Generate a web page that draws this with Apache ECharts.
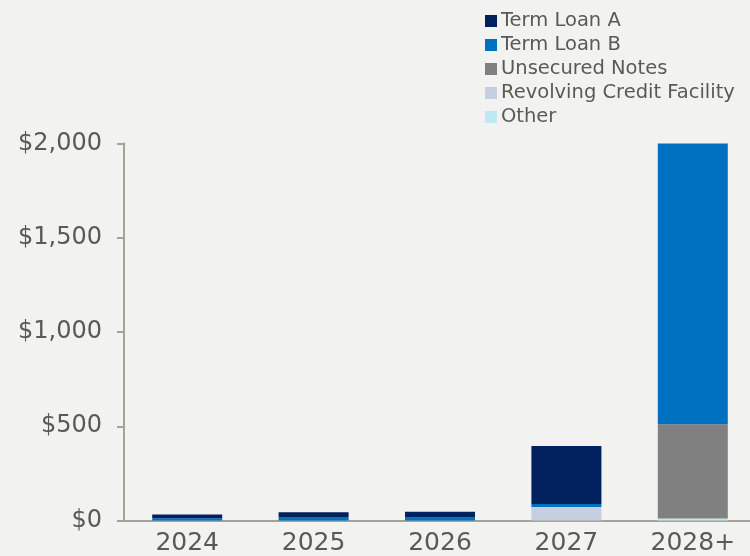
<!DOCTYPE html>
<html>
<head>
<meta charset="utf-8">
<script src="https://cdn.jsdelivr.net/npm/echarts@6/dist/echarts.min.js"></script>
<style>
html,body{margin:0;padding:0;background:#F2F2F0;overflow:hidden;}
#c{width:756px;height:556px;}
</style>
</head>
<body>
<div id="c"></div>
<script>
const categories = ['2024', '2025', '2026', '2027', '2028+'];
const termLoanA = [20, 26, 30, 308, 0];
const termLoanB = [12, 18, 16, 16, 1492];
const unsecuredNotes = [0, 0, 0, 0, 499];
const revolvingCredit = [0, 0, 0, 71, 0];
const other = [0, 0, 0, 0, 11];
const yTicks = [0, 500, 1000, 1500, 2000];

const font = 'DejaVu Sans';
const textColor = '#5A5A55';
const axisColor = '#A3A398';

const seriesDefs = [
  {name: 'Other', data: other, color: '#BDE8F4'},
  {name: 'Revolving Credit Facility', data: revolvingCredit, color: '#C5CFE1'},
  {name: 'Unsecured Notes', data: unsecuredNotes, color: '#808080'},
  {name: 'Term Loan B', data: termLoanB, color: '#0070C0'},
  {name: 'Term Loan A', data: termLoanA, color: '#00205E'}
];

const chart = echarts.init(document.getElementById('c'), null, {renderer: 'canvas'});
chart.setOption({
  backgroundColor: '#F2F2F0',
  animation: false,
  legend: {
    orient: 'vertical',
    left: 485,
    top: 9,
    padding: 0,
    itemWidth: 12,
    itemHeight: 12,
    itemGap: 0,
    icon: 'rect',
    data: ['Term Loan A', 'Term Loan B', 'Unsecured Notes', 'Revolving Credit Facility', 'Other'],
    textStyle: {fontFamily: font, fontSize: 19.5, color: textColor, lineHeight: 24, padding: [0, 0, 0, -1]}
  },
  grid: {left: 124, right: 0, top: 143.5, bottom: 35.5, containLabel: false},
  xAxis: {
    type: 'category',
    data: categories,
    axisLine: {show: true, lineStyle: {color: axisColor, width: 2}},
    axisTick: {show: false},
    axisLabel: {fontFamily: font, fontSize: 25, color: textColor, margin: 10}
  },
  yAxis: {
    type: 'value',
    min: yTicks[0],
    max: yTicks[yTicks.length - 1],
    interval: yTicks[1] - yTicks[0],
    splitLine: {show: false},
    axisLine: {show: true, lineStyle: {color: axisColor, width: 2}},
    axisTick: {show: true, length: 7, lineStyle: {color: axisColor, width: 2}},
    axisLabel: {
      fontFamily: font, fontSize: 24, color: textColor, margin: 22,
      formatter: v => '$' + v.toLocaleString('en-US')
    }
  },
  series: seriesDefs.map(s => ({
    name: s.name,
    type: 'bar',
    stack: 'total',
    barWidth: 70,
    data: s.data,
    itemStyle: {color: s.color},
    emphasis: {disabled: true}
  }))
});
</script>
</body>
</html>
